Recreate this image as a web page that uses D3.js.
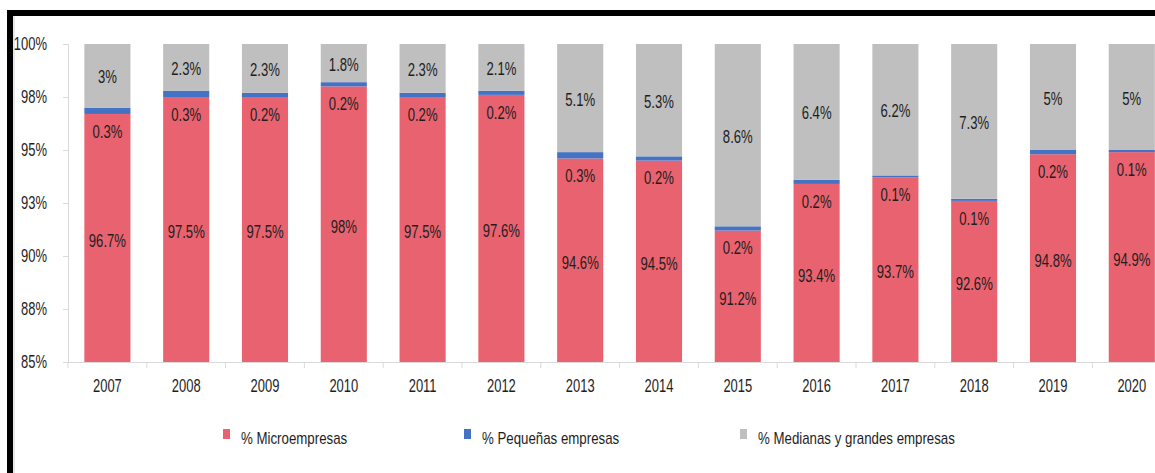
<!DOCTYPE html>
<html>
<head>
<meta charset="utf-8">
<script src="https://cdn.jsdelivr.net/npm/d3@7"></script>
<style>
  body { margin: 0; background: #fff; }
  svg { display: block; }
  text { font-family: "Liberation Sans Narrow", "Arial Narrow", "Liberation Sans", sans-serif; fill: #1e1e1e; }
</style>
</head>
<body>
<svg id="chart" width="1155" height="473"></svg>
<script>
// data
const years = ["2007", "2008", "2009", "2010", "2011", "2012", "2013", "2014", "2015", "2016", "2017", "2018", "2019", "2020"];
const micro = [96.7, 97.5, 97.5, 98, 97.5, 97.6, 94.6, 94.5, 91.2, 93.4, 93.7, 92.6, 94.8, 94.9];
const pequenas = [0.3, 0.3, 0.2, 0.2, 0.2, 0.2, 0.3, 0.2, 0.2, 0.2, 0.1, 0.1, 0.2, 0.1];
const medianas = [3, 2.3, 2.3, 1.8, 2.3, 2.1, 5.1, 5.3, 8.6, 6.4, 6.2, 7.3, 5, 5];
const yTicks = [85, 87.5, 90, 92.5, 95, 97.5, 100];
const seriesNames = ["% Microempresas", "% Pequeñas empresas", "% Medianas y grandes empresas"];
const colors = ["#e8636f", "#4472c4", "#bfbfbf"];

const svg = d3.select("#chart");

// narrow font is not installed, so squeeze the text horizontally
function squeeze(sel, k) {
  sel.each(function () {
    const t = d3.select(this);
    const tx = +t.attr("x") || 0, ty = +t.attr("y") || 0;
    t.attr("x", 0).attr("y", 0)
      .attr("transform", `translate(${tx},${ty}) scale(${k},1)`);
  });
}

// frame
svg.append("path")
  .attr("d", "M10,1155 L10,13 L1160,13")
  .attr("fill", "none")
  .attr("stroke", "#000")
  .attr("stroke-width", 6);
svg.append("line")
  .attr("x1", 14).attr("x2", 14).attr("y1", 16).attr("y2", 473)
  .attr("stroke", "#e6e6e6").attr("stroke-width", 2);

const plotLeft = 68, plotBottom = 362, plotTop = 44;
const step = 78.8;

const x = d3.scaleBand()
  .domain(years)
  .range([plotLeft, plotLeft + step * years.length])
  .paddingInner(0.415)
  .paddingOuter(0.2075);

const y = d3.scaleLinear()
  .domain([85, 100])
  .range([plotBottom, plotTop])
  .clamp(true);

const rows = years.map((yr, i) => ({ year: yr, micro: micro[i], pequenas: pequenas[i], medianas: medianas[i] }));
const keys = ["micro", "pequenas", "medianas"];
const stacked = d3.stack().keys(keys)(rows);

// axes
const yAxis = svg.append("g")
  .attr("transform", `translate(${plotLeft},0)`)
  .call(d3.axisLeft(y).tickValues(yTicks).tickSize(5).tickPadding(16)
    .tickFormat(d => Math.round(d) + "%"));
yAxis.selectAll("line, path").attr("stroke", "#d9d9d9");
yAxis.selectAll("text").style("font-size", "18px").attr("fill", "#1e1e1e").call(squeeze, 0.72);

const xAxis = svg.append("g")
  .attr("transform", `translate(0,${plotBottom})`)
  .call(d3.axisBottom(x).tickSize(0).tickPadding(17));
xAxis.select("path").attr("stroke", "#d9d9d9");
xAxis.selectAll("text").style("font-size", "18px").attr("fill", "#1e1e1e").call(squeeze, 0.72);
xAxis.selectAll(".sep")
  .data(d3.range(years.length + 1))
  .join("line")
  .attr("x1", i => plotLeft + i * step).attr("x2", i => plotLeft + i * step)
  .attr("y1", 0).attr("y2", 6)
  .attr("stroke", "#d9d9d9");

// bars (grey part always reaches the 100% top)
svg.append("g")
  .selectAll("g")
  .data(stacked)
  .join("g")
  .attr("fill", (d, i) => colors[i])
  .selectAll("rect")
  .data(d => d.map(p => Object.assign(p, { key: d.key })))
  .join("rect")
  .attr("x", d => x(d.data.year))
  .attr("width", x.bandwidth())
  .attr("y", d => d.key === "medianas" ? y(100) : y(d[1]))
  .attr("height", d => y(d[0]) - (d.key === "medianas" ? y(100) : y(d[1])));

const fmt = v => String(v) + "%";
const labels = svg.append("g").attr("text-anchor", "middle").style("font-size", "19px");

// micro labels: middle of red part
labels.selectAll(".lm")
  .data(stacked[0])
  .join("text")
  .attr("x", d => x(d.data.year) + x.bandwidth() / 2)
  .attr("y", d => (y(d[0]) + y(d[1])) / 2 + 2)
  .attr("dy", "0.35em")
  .text(d => fmt(d.data.micro));

// pequeñas labels: just under the top of the red part
labels.selectAll(".lp")
  .data(stacked[0])
  .join("text")
  .attr("x", d => x(d.data.year) + x.bandwidth() / 2)
  .attr("y", d => y(d[1]) + 17)
  .attr("dy", "0.35em")
  .text(d => fmt(d.data.pequenas));

// medianas labels: middle of grey part
labels.selectAll(".lg")
  .data(stacked[2])
  .join("text")
  .attr("x", d => x(d.data.year) + x.bandwidth() / 2)
  .attr("y", d => (y(d[0]) + y(100)) / 2 + 1)
  .attr("dy", "0.35em")
  .text(d => fmt(d.data.medianas));

labels.selectAll("text").call(squeeze, 0.69);

// legend
const legendX = [223, 464, 740];
const legend = svg.append("g")
  .selectAll("g")
  .data(seriesNames)
  .join("g")
  .attr("transform", (d, i) => `translate(${legendX[i]},438)`);
legend.append("rect")
  .attr("x", 0).attr("y", -9).attr("width", 7).attr("height", 10)
  .attr("fill", (d, i) => colors[i]);
legend.append("text")
  .attr("x", 18).attr("y", 0).attr("dy", "0.35em")
  .style("font-size", "16px")
  .text(d => d)
  .call(squeeze, 0.83);
</script>
</body>
</html>
